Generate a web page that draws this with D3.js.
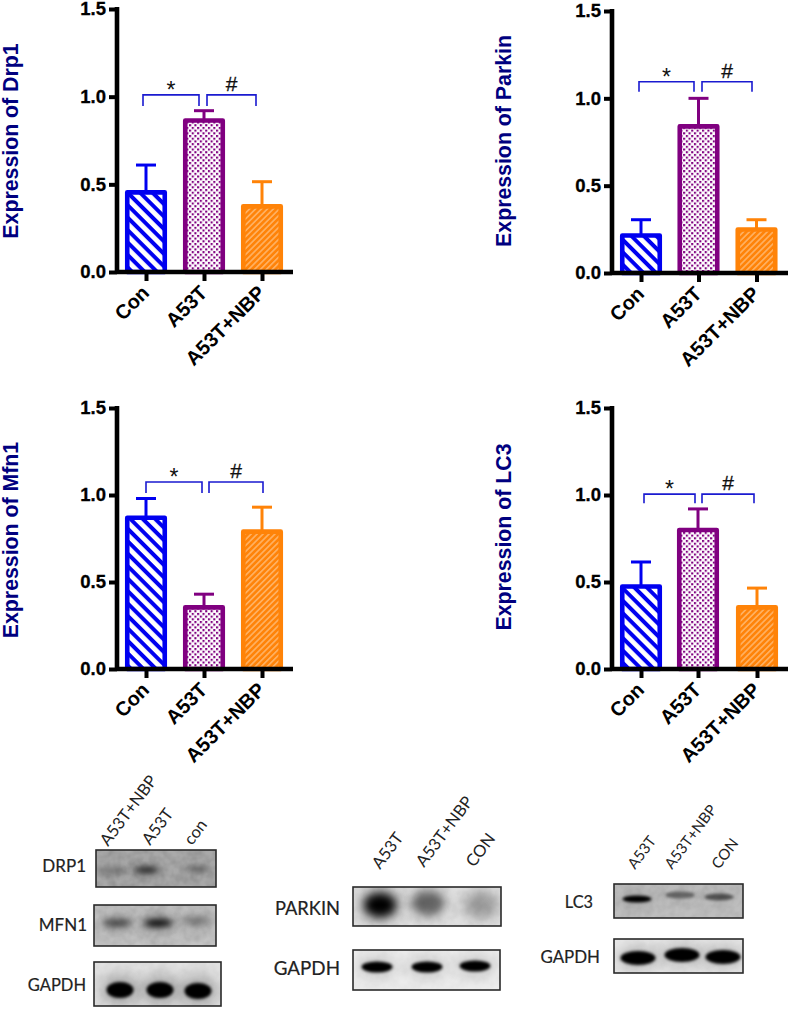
<!DOCTYPE html>
<html><head><meta charset="utf-8">
<script src="https://cdn.jsdelivr.net/npm/d3@7"></script>
<style>html,body{margin:0;padding:0;background:#fff}svg{display:block}</style>
</head><body><svg id="c" width="790" height="1010"></svg>
<script>
// ---- data ----
const groups = ["Con","A53T","A53T+NBP"];
const yTicks = [0,0.5,1.0,1.5];
const drp1Means = [0.46,0.87,0.38];
const drp1Errors = [0.15,0.05,0.135];
const parkinMeans = [0.22,0.845,0.255];
const parkinErrors = [0.085,0.155,0.05];
const mfn1Means = [0.875,0.36,0.795];
const mfn1Errors = [0.105,0.07,0.135];
const lc3Means = [0.48,0.805,0.36];
const lc3Errors = [0.135,0.115,0.105];
const chartTitles = ["Expression of Drp1","Expression of Parkin","Expression of Mfn1","Expression of LC3"];
const bracketLevels = [1.01,1.095,1.075,1.005];
const sigMarks = ["*","#"];
const blotLanes1 = ["A53T+NBP","A53T","con"];
const blotLanes2 = ["A53T","A53T+NBP","CON"];
const blotLanes3 = ["A53T","A53T+NBP","CON"];
const drp1Bands = [0.35,0.85,0.35];
const mfn1Bands = [0.6,0.95,0.32];
const gapdh1Bands = [1,1,1];
const parkinBands = [1,0.5,0.2];
const gapdh2Bands = [1,1,1];
const lc3Bands = [1,0.45,0.55];
const gapdh3Bands = [1,1,1];

// ---- layout ----
const svg = d3.select("#c");
const defs = svg.append("defs");
const BLUE="#0000f0", PURPLE="#800080", ORANGE="#ff8308";
const colors=[BLUE,PURPLE,ORANGE];
const hatch=(id,size,draw)=>{const p=defs.append("pattern").attr("id",id).attr("patternUnits","userSpaceOnUse").attr("width",size).attr("height",size);draw(p);};
hatch("pCon",8.8,p=>{p.attr("patternTransform","rotate(-45)");p.append("rect").attr("width",8.8).attr("height",8.8).attr("fill",BLUE);p.append("rect").attr("width",4.8).attr("height",8.8).attr("fill","#fff");});
hatch("pA53",5.4,p=>{p.append("rect").attr("width",5.4).attr("height",5.4).attr("fill","#fff");p.append("rect").attr("width",2.1).attr("height",2.1).attr("fill",PURPLE);p.append("rect").attr("x",2.7).attr("y",2.7).attr("width",2.1).attr("height",2.1).attr("fill",PURPLE);});
hatch("pNbp",4.2,p=>{p.attr("patternTransform","rotate(45)");p.append("rect").attr("width",4.2).attr("height",4.2).attr("fill",ORANGE);p.append("rect").attr("width",1.7).attr("height",4.2).attr("fill","#ffb060");});
const fills=["url(#pCon)","url(#pA53)","url(#pNbp)"];

const panels=[
 {ax:117,top:9,bot:272,right:293,cx:[146,204,262],mean:drp1Means,err:drp1Errors,title:chartTitles[0],tx:18,ty:141,fs:21.3,lvl:bracketLevels[0],br:[143,199,207,256],dr:11},
 {ax:612,top:11,bot:273,right:788,cx:[641,698.5,756.5],mean:parkinMeans,err:parkinErrors,title:chartTitles[1],tx:511,ty:141,fs:21.3,lvl:bracketLevels[1],br:[639,694,702,752],dr:10},
 {ax:117,top:408,bot:669,right:293,cx:[146,204,262],mean:mfn1Means,err:mfn1Errors,title:chartTitles[2],tx:18,ty:540,fs:21.3,lvl:bracketLevels[2],br:[146,202,209,263],dr:11},
 {ax:612,top:408,bot:669,right:788,cx:[641,698,757],mean:lc3Means,err:lc3Errors,title:chartTitles[3],tx:511,ty:537,fs:21.3,lvl:bracketLevels[3],br:[644,695,702,754],dr:9}
];
const F="'Liberation Sans',Arial,sans-serif";
panels.forEach(P=>{
 const g=svg.append("g");
 const y=d3.scaleLinear().domain([0,1.5]).range([P.bot,P.top]);
 const x=d3.scaleOrdinal().domain(groups).range(P.cx);
 const bw=37.5;
 groups.forEach((k,i)=>{
  const c=colors[i], xc=x(k), yv=y(P.mean[i]), ye=y(P.mean[i]+P.err[i]);
  g.append("line").attr("x1",xc).attr("x2",xc).attr("y1",yv).attr("y2",ye).attr("stroke",c).attr("stroke-width",3);
  g.append("line").attr("x1",xc-10).attr("x2",xc+10).attr("y1",ye).attr("y2",ye).attr("stroke",c).attr("stroke-width",3);
  g.append("rect").attr("x",xc-bw/2).attr("width",bw).attr("y",yv+1).attr("height",y(0)-yv-1)
   .attr("fill",fills[i]).attr("stroke",c).attr("stroke-width",4.6).attr("stroke-linejoin","round");
 });
 const yAxis=d3.axisLeft(y).tickValues(yTicks).tickFormat(d3.format(".1f")).tickSize(8).tickPadding(3);
 const ya=g.append("g").attr("transform",`translate(${P.ax},0)`).call(yAxis);
 ya.select(".domain").attr("stroke","#000").attr("stroke-width",4.6).attr("d",`M0,${P.top-2}V${P.bot+2}`);
 ya.selectAll(".tick line").attr("stroke","#000").attr("stroke-width",4);
 ya.selectAll("text").attr("font-family",F).attr("font-weight","bold").attr("font-size",18.5).attr("fill","#000").attr("stroke","#000").attr("stroke-width",0.3);
 const xAxis=d3.axisBottom(x).tickValues(groups).tickSize(9);
 const xa=g.append("g").attr("transform",`translate(0,${P.bot})`).call(xAxis);
 xa.select(".domain").attr("stroke","#000").attr("stroke-width",4.6).attr("d",`M${P.ax},0H${P.right}`);
 xa.selectAll(".tick line").attr("stroke","#000").attr("stroke-width",4);
 xa.selectAll("text").attr("font-family",F).attr("font-weight","bold").attr("font-size",20).attr("fill","#000")
   .attr("text-anchor","end").attr("dy",0).attr("y",0).attr("x",0).attr("transform","translate(4,22) rotate(-45)");
 g.append("text").attr("transform",`translate(${P.tx},${P.ty}) rotate(-90)`).attr("text-anchor","middle")
  .attr("font-family",F).attr("font-weight","bold").attr("font-size",P.fs).attr("fill","#00007f").text(P.title);
 const by=y(P.lvl), [a,b,c,d]=P.br, dr=P.dr;
 [[a,b,sigMarks[0]],[c,d,sigMarks[1]]].forEach(([l,r,m])=>{
  g.append("path").attr("d",`M${l},${by+dr}V${by}H${r}V${by+dr}`).attr("fill","none").attr("stroke","#1a1ad0").attr("stroke-width",1.6);
  g.append("text").attr("x",(l+r)/2).attr("y",m==="*"?by+3:by-4).attr("text-anchor","middle").attr("font-family",F).attr("font-size",m==="*"?23:21).attr("fill","#111").attr("stroke","#111").attr("stroke-width",m==="*"?0:0.3).text(m);
 });
});

// ---- blots ----
const mkBlur=(id,s)=>defs.append("filter").attr("id",id).attr("x","-60%").attr("y","-100%").attr("width","220%").attr("height","300%").append("feGaussianBlur").attr("stdDeviation",s);
mkBlur("b1",3);mkBlur("b2",1.7);mkBlur("b3",5);mkBlur("b4",8);
const nf=defs.append("filter").attr("id","noise").attr("x","0").attr("y","0").attr("width","100%").attr("height","100%");
nf.append("feTurbulence").attr("type","fractalNoise").attr("baseFrequency",0.12).attr("numOctaves",2).attr("seed",4);
nf.append("feColorMatrix").attr("values","0 0 0 0 0  0 0 0 0 0  0 0 0 0 0  1.6 0 0 0 -0.5");
const blots=[
 {label:"DRP1",lx:86,ly:872,fs:17,x:96,y:850,w:120,h:37,bg:"#aaaaaa",cx:[112,146,197],cy:[871,870,869],bw:26,bh:6,v:drp1Bands,f:"b1",halo:.1,noise:.14},
 {label:"MFN1",lx:87,ly:931,fs:17,x:94,y:905,w:122,h:41,bg:"#c4c4c4",cx:[117,158,197],cy:[923,923,921],bw:28,bh:8,v:mfn1Bands,f:"b1",halo:.25,noise:.1},
 {label:"GAPDH",lx:86,ly:991,fs:16.5,x:94,y:962,w:127,h:44,bg:"#e2e2e2",cx:[120,160,198],cy:[990,990,991],bw:27,bh:16,v:gapdh1Bands,f:"b2",halo:.3,noise:.04},
 {label:"PARKIN",lx:340,ly:915,fs:18.3,x:353,y:887,w:148,h:39,bg:"#e2e2e2",cx:[380,428,481],cy:[905,903,905],bw:32,bh:24,v:parkinBands,f:"b3",halo:.25,noise:.05},
 {label:"GAPDH",lx:340,ly:975,fs:18.8,x:353,y:950,w:147,h:40,bg:"#eeeeee",cx:[377,427,475],cy:[967,967,966],bw:31,bh:11,v:gapdh2Bands,f:"b2",halo:.15,noise:.03},
 {label:"LC3",lx:593,ly:908,fs:16.3,x:614,y:884,w:129,h:34,bg:"#c0c0c0",cx:[637,680,719],cy:[899,895,897],bw:29,bh:7,v:lc3Bands,f:"b2",halo:.12,noise:.08},
 {label:"GAPDH",lx:600,ly:963,fs:16.9,x:614,y:939,w:129,h:34,bg:"#ececec",cx:[638,682,723],cy:[958,955,957],bw:35,bh:14,v:gapdh3Bands,f:"b2",halo:.2,noise:.03}
];
blots.forEach((B,n)=>{
 const g=svg.append("g");
 const clip="cl"+n;
 defs.append("clipPath").attr("id",clip).append("rect").attr("x",B.x).attr("y",B.y).attr("width",B.w).attr("height",B.h);
 g.append("rect").attr("x",B.x).attr("y",B.y).attr("width",B.w).attr("height",B.h).attr("fill",B.bg);
 const inner=g.append("g").attr("clip-path",`url(#${clip})`);
 inner.append("rect").attr("x",B.x).attr("y",B.y).attr("width",B.w).attr("height",B.h).attr("filter","url(#noise)").attr("opacity",B.noise);
 B.v.forEach((v,i)=>{
  inner.append("ellipse").attr("cx",B.cx[i]).attr("cy",B.cy[i]).attr("rx",B.bw/2+5).attr("ry",B.bh/2+6)
   .attr("fill","#000").attr("opacity",B.halo*Math.max(v,.5)).attr("filter","url(#b4)");
  inner.append("ellipse").attr("cx",B.cx[i]).attr("cy",B.cy[i]).attr("rx",B.bw/2).attr("ry",B.bh/2)
   .attr("fill","#000").attr("opacity",v).attr("filter",`url(#${B.f})`);
 });
 g.append("rect").attr("x",B.x).attr("y",B.y).attr("width",B.w).attr("height",B.h).attr("fill","none").attr("stroke","#2a2a2a").attr("stroke-width",1.6);
 g.append("text").attr("x",B.lx).attr("y",B.ly).attr("text-anchor","end").attr("font-family","Lato,sans-serif").attr("font-size",B.fs).attr("fill","#222").attr("stroke","#222").attr("stroke-width",0.2).text(B.label);
});
const laneSets=[
 {names:blotLanes1,x:[108,150,192],y:[847,846,846],fs:16.5},
 {names:blotLanes2,x:[380,424,474],y:[870,868,868],fs:16.5},
 {names:blotLanes3,x:[635,672,719],y:[870,870,870],fs:15}
];
laneSets.forEach(S=>S.names.forEach((t,i)=>{
 svg.append("text").attr("transform",`translate(${S.x[i]},${S.y[i]}) rotate(-53)`).attr("font-family","Lato,sans-serif").attr("font-size",S.fs).attr("fill","#222").text(t);
}));
</script></body></html>
